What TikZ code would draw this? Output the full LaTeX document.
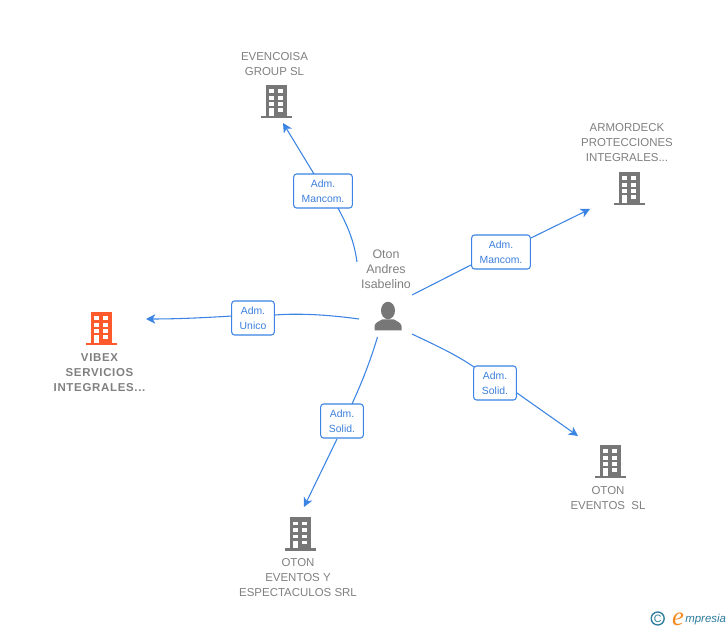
\documentclass[tikz,border=0pt]{standalone}
\usepackage{fontspec}
\setmainfont{Liberation Sans}
\newfontfamily\logoserif{Liberation Serif}
\definecolor{linkblue}{HTML}{3B84E3}
\definecolor{lblue}{HTML}{3C7FDC}
\definecolor{icongray}{HTML}{777777}
\definecolor{txtgray}{HTML}{808080}
\definecolor{iconorange}{HTML}{FF5A2C}
\definecolor{logoblue}{HTML}{2E7C9E}
\definecolor{logoorange}{HTML}{F28A1E}
\usetikzlibrary{arrows.meta}
\tikzset{
 lab/.style={draw=linkblue,line width=0.8pt,rounded corners=2.2pt,fill=white,text=lblue,font=\fontsize{7.8}{11.2}\selectfont,align=center,inner sep=0pt,minimum height=25.5pt},
 nametxt/.style={text=txtgray,font=\fontsize{8.6}{11.2}\selectfont,align=center,inner sep=0pt},
 link/.style={draw=linkblue,line width=0.8pt},
 arr/.style={link,-{Stealth[length=7pt,width=7pt,inset=2pt]}},
 anchorbox/.style={inner sep=0pt,minimum width=24pt,minimum height=24pt}
}
\newcommand{\bldg}[4]{%
 \node[anchorbox] (#1) at (#2,#3) {};
 \begin{scope}[shift={(#2,#3)}]
  \fill[#4] (-10.5,-16) rectangle (10.5,16);
  \fill[#4] (-15.5,15) rectangle (15.5,17.5);
  \foreach \yy in {-11.5,-5,1.5}{
   \fill[white] (-7.3,\yy) rectangle (-2.2,\yy+3.7);
   \fill[white] (2.2,\yy) rectangle (7.3,\yy+3.7);
  }
  \fill[white] (-6.7,7.5) rectangle (-2.2,15);
  \fill[white] (2.2,7.5) rectangle (7.3,11.3);
 \end{scope}
}
\begin{document}
\begin{tikzpicture}[x=0.75pt,y=-0.75pt]
\useasboundingbox (0,0) rectangle (728,630);
\fill[white] (0,0) rectangle (728,630);

\bldg{evb}{276}{101}{icongray}
\bldg{arb}{629}{188}{icongray}
\bldg{vib}{101}{328}{iconorange}
\bldg{oeb}{610}{461}{icongray}
\bldg{osb}{300}{533}{icongray}

% person
\node[anchorbox] (per) at (388,316) {};
\fill[icongray] (374.5,330.5) -- (374.5,326) .. controls (375,322.5) and (379,321.5) .. (382,319.5) -- (394,319.5) .. controls (397,321.5) and (401,322.5) .. (401.5,326) -- (401.5,330.5) -- cycle;
\fill[icongray] (388,310.5) ellipse (7 and 8.7);

\coordinate (s1) at (357,262);
\coordinate (s2) at (412,295);
\coordinate (s3) at (412,334);
\coordinate (s4) at (377.5,337);
\coordinate (s5) at (359,319);
\coordinate (t1) at (283,123);
\coordinate (t2) at (590,209);
\coordinate (t3) at (578,436);
\coordinate (t4) at (304,507);
\coordinate (t5) at (146,319);
\coordinate (l1a) at (314,174);
\coordinate (l1b) at (338,208);
\coordinate (l2a) at (471,265);
\coordinate (l2b) at (531,238);
\coordinate (l3a) at (474,367);
\coordinate (l3b) at (517,393);
\coordinate (l4a) at (337,439);
\coordinate (l4b) at (352,404);
\coordinate (l5a) at (232,316);
\coordinate (l5b) at (275,315);

\node[lab,minimum width=44pt] (l1) at (323,191) {Adm.\\Mancom.};
\node[lab,minimum width=44pt] (l2) at (501,252) {Adm.\\Mancom.};
\node[lab,minimum width=32pt] (l3) at (495,383) {Adm.\\Solid.};
\node[lab,minimum width=32pt] (l4) at (342,421) {Adm.\\Solid.};
\node[lab,minimum width=32pt] (l5) at (253,318) {Adm.\\Unico};

\draw[link] (s1) .. controls (354,240) and (347,225) .. (l1b);
\draw[arr] (l1a) -- (t1);
\draw[link] (s2) -- (l2a);
\draw[arr] (l2b) -- (t2);
\draw[link] (s3) .. controls (435,345) and (455,354) .. (l3a);
\draw[arr] (l3b) -- (t3);
\draw[link] (s4) .. controls (370,362) and (362,382) .. (l4b);
\draw[arr] (l4a) -- (t4);
\draw[link] (s5) .. controls (330,315) and (300,313) .. (l5b);
\draw[arr] (l5a) .. controls (200,318) and (175,319) .. (t5);

\node[nametxt,font=\fontsize{9.3}{11.2}\selectfont] (n0) at (386,269) {Oton\\Andres\\Isabelino};
\node[nametxt] (n1) at (274.5,64) {EVENCOISA\\GROUP SL};
\node[nametxt] (n2) at (627,142.5) {ARMORDECK\\PROTECCIONES\\INTEGRALES...};
\node[nametxt,font=\fontsize{8.6}{11.2}\selectfont\bfseries\addfontfeatures{LetterSpace=6}] (n3) at (99.5,372.5) {VIBEX\\SERVICIOS\\INTEGRALES...};
\node[nametxt] (n4) at (608,498) {OTON\\EVENTOS\ \ SL};
\node[nametxt] (n5) at (298,577.5) {OTON\\EVENTOS Y\\ESPECTACULOS SRL};

% logo
\draw[logoblue,line width=1pt] (657.7,618.5) circle (6.5);
\node[text=logoblue,font=\fontsize{8}{8}\selectfont,inner sep=0pt] (lc) at (657.7,618.5) {C};
\node[text=logoorange,font=\logoserif\fontsize{20}{20}\selectfont\itshape,inner sep=0pt] (le) at (678,619) {e};
\node[text=logoblue,font=\fontsize{8.6}{9}\selectfont\itshape,inner sep=0pt,anchor=west] (lt) at (685,620) {mpresia};
\end{tikzpicture}
\end{document}
